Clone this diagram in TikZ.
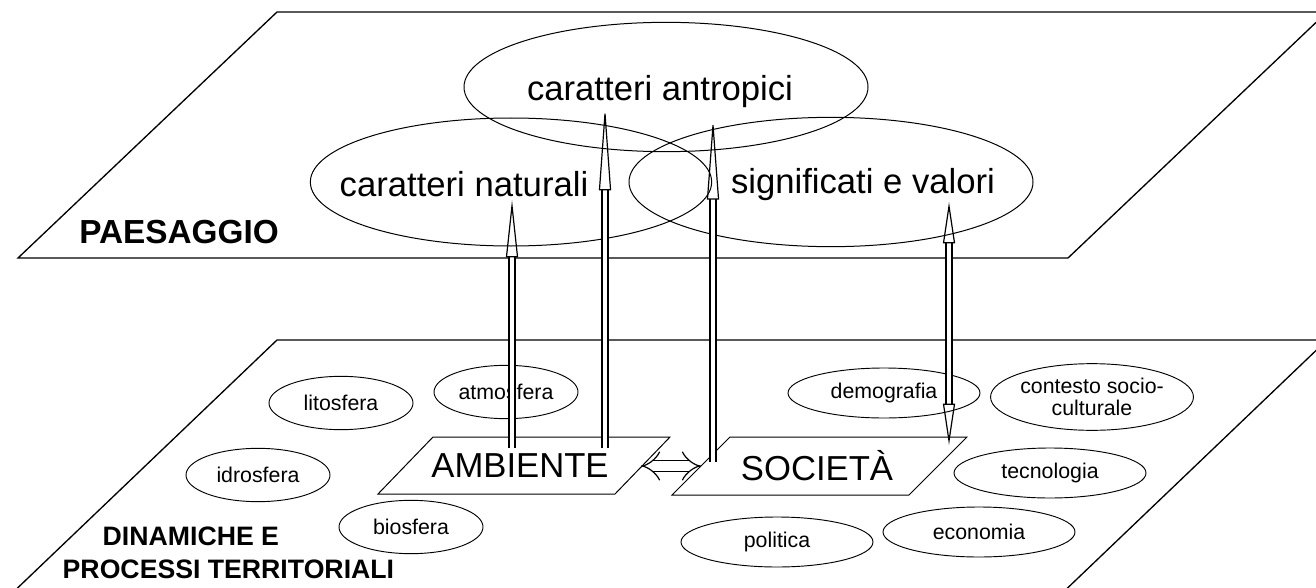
\documentclass[tikz,border=0pt]{standalone}
\usepackage{fontspec}
\setmainfont{Liberation Sans}
\usetikzlibrary{calc}
\usetikzlibrary{arrows.meta}
\usetikzlibrary{shapes.geometric}

\begin{document}
\begin{tikzpicture}[x=0.75pt,y=-0.75pt,
  plane/.style={draw,line width=1pt},
  bigell/.style={draw,ellipse,line width=.75pt,inner sep=0pt,minimum width=303pt,minimum height=97pt},
  bigtxt/.style={font=\fontsize{26}{30}\selectfont},
  smallell/.style={draw,ellipse,line width=.7pt,inner sep=0pt,font=\fontsize{16}{17}\selectfont},
  tie/.style={double,double distance=3.5pt,line width=.9pt,-{Triangle[open,length=#1,width=9pt]}},
  tieboth/.style={double,double distance=3.5pt,line width=.9pt,
    {Triangle[open,length=#1,width=9pt]}-{Triangle[open,length=#1,width=9pt]}},
  swap/.style={double,double distance=7pt,line width=.9pt,{Implies}-{Implies}}]
  \path[use as bounding box,fill=white] (0,0) rectangle (1316,588);
  \draw[plane] (277,12) -- (1327,12) -- (1068,258) -- (18,258) -- cycle;
  \draw[plane] (277,340) -- (1327,340) -- (1055,600) -- (5,600) -- cycle;
  \node[font=\bfseries\fontsize{25}{28}\selectfont] (pae) at (179,232) {PAESAGGIO};
  \node[font=\bfseries\fontsize{20}{24.75}\selectfont,align=left,anchor=west] (din) at (58,553)
    {\hspace*{30pt}DINAMICHE E\\PROCESSI TERRITORIALI};
  \node[bigell] (antr) at (666,87) {};
  \node[bigtxt] (antrT) at (660,92) {caratteri antropici};
  \node[bigell,minimum width=301pt,minimum height=96pt] (nat) at (511,182) {};
  \node[bigtxt] (natT) at (464,184) {caratteri naturali};
  \node[bigell] (val) at (831,182) {};
  \node[bigtxt] (valT) at (863,185) {significati e valori};
  \foreach \nm/\pos/\txt in {lito/{341,403}/litosfera,atmo/{506,392}/atmosfera,
      idro/{258,475}/idrosfera,bio/{411,527}/biosfera}
    \node[smallell,minimum width=108pt,minimum height=40pt] (\nm) at (\pos) {\txt};
  \foreach \nm/\pos/\txt in {demo/{884,393}/demografia,tecno/{1050,473}/tecnologia,
      eco/{979,532}/economia,pol/{777,542}/politica}
    \node[smallell,minimum width=144pt,minimum height=37.5pt] (\nm) at (\pos) {\txt};
  \node[smallell,align=center,minimum width=150pt,minimum height=50pt] (cont) at (1092,397) {contesto socio-\\culturale};
  \node[bigtxt] (amb) at (520,466) {AMBIENTE};
  \node[bigtxt] (soc) at (817,466) {SOCIETÀ};
  \draw[line width=.75pt] ($(amb)+(-87,-29)$) -- ++(237,0) -- ++(-55,57) -- ++(-237,0) -- cycle;
  \draw[line width=.75pt] ($(soc)+(-87,-29)$) -- ++(237,0) -- ++(-58,58) -- ++(-237,0) -- cycle;
  \draw[tie=43pt] ($(amb)+(-8,-18)$) -- ($(nat.center)+(1,18)$);
  \draw[tie=64pt] ($(amb)+(85,-18)$) -- ($(antr.center)+(-61,18)$);
  \draw[tie=62pt] ($(soc)+(-104,-4)$) -- ($(antr.center)+(47,30)$);
  \draw[tieboth=31pt] ($(soc)+(132,-21)$) -- ($(val.center)+(118,20)$);
  \draw[swap] ($(amb)+(121,0)$) -- ($(soc)+(-116,0)$);
\end{tikzpicture}
\end{document}
